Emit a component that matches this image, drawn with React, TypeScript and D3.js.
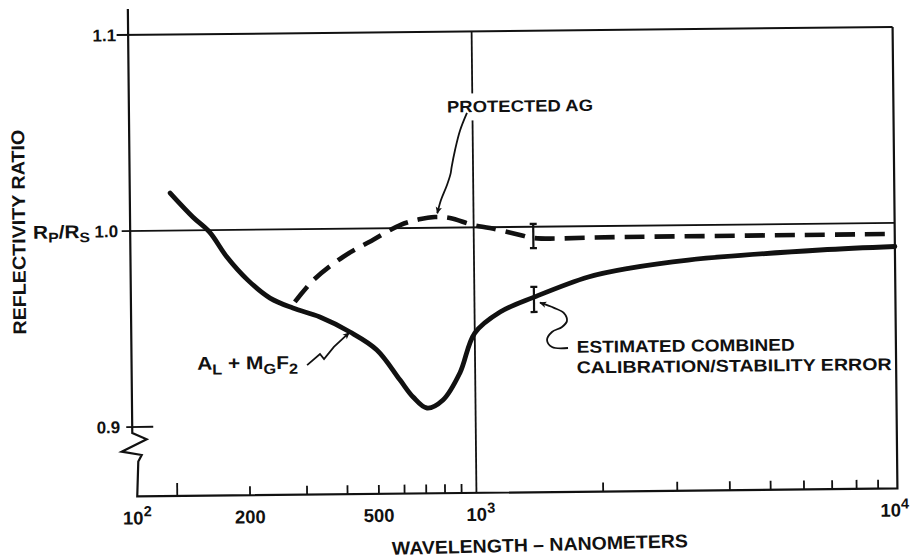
import React from 'react';
import * as d3 from 'd3';

const W = 915;
const H = 558;

// Al + MgF2 (solid) — wavelength (nm) and Rp/Rs
const solidNm = [127, 145, 160, 177, 200, 234, 275, 333, 412, 498, 586, 642, 708, 794, 897, 1000, 1150, 1386, 1867, 2346, 3224, 6640, 10000];
const solidR = [1.0191, 1.0068, 0.999, 0.9862, 0.9743, 0.965, 0.9598, 0.9551, 0.9473, 0.938, 0.9225, 0.9138, 0.9081, 0.9121, 0.9258, 0.9461, 0.9567, 0.9641, 0.9741, 0.9784, 0.9822, 0.9866, 0.988];

// Protected Ag (dashed)
const agNm = [279, 319, 394, 488, 593, 679, 760, 845, 997, 1093, 1288, 1382, 2220, 10000];
const agR = [0.9629, 0.974, 0.9856, 0.9941, 1.0016, 1.0044, 1.0055, 1.0049, 1.0012, 0.9996, 0.9959, 0.9943, 0.9943, 0.9944];

// Estimated combined calibration/stability error bars
const errNm = [1385, 1385];
const errCenter = [0.9953, 0.9629];
const errHalf = [0.0062, 0.0064];

// Axis ticks
const yTickValues = [0.9, 1.0, 1.1];
const yTickLabels = ['0.9', '1.0', '1.1'];
const xMinorTicks = [130, 200, 300, 400, 500, 600, 700, 800, 900, 2000, 3000, 4000, 5000, 6000, 7000, 8000, 9000];
const xLabelValues = [100, 200, 500, 1000, 10000];
const xLabelBase = ['10', '200', '500', '10', '10'];
const xLabelSup = ['2', '', '', '3', '4'];

const FONT = "'Liberation Sans', Arial, Helvetica, sans-serif";
const INK = '#111';

export default function App() {
  const x = d3.scaleLog().domain([100, 200, 1000, 10000]).range([130.5, 247.6, 474, 895]);
  const y = d3.scaleLinear().domain([0.9, 1.1]).range([423, 31]);

  const x0 = x(100);
  const xEnd = x(10000);
  const yTop = y(1.1);
  const yBottom = 492.5;
  const y09 = y(0.9);

  const line = d3
    .line<[number, number]>()
    .x((d) => x(d[0]))
    .y((d) => y(d[1]))
    .curve(d3.curveCatmullRom.alpha(0.5));

  const solidPath = line(solidNm.map((n, i) => [n, solidR[i]]) as [number, number][]) || '';
  const agPath = line(agNm.map((n, i) => [n, agR[i]]) as [number, number][]) || '';

  const leaderSmooth = d3.line<[number, number]>().curve(d3.curveCatmullRom.alpha(0.5));
  const leaderStraight = d3.line<[number, number]>();

  const leftAxis = d3.path();
  leftAxis.moveTo(x0, 5);
  leftAxis.lineTo(x0, y09 + 6);
  leftAxis.lineTo(x0 + 14.3, y09 + 12.5);
  leftAxis.lineTo(x0 - 10.8, y09 + 24.6);
  leftAxis.lineTo(x0 + 9.2, y09 + 28.1);
  leftAxis.lineTo(x0 + 5.7, y09 + 34.7);
  leftAxis.lineTo(x0 + 4.3, yBottom);
  leftAxis.lineTo(xEnd, yBottom);
  leftAxis.lineTo(xEnd, yTop);

  const protectedLeader = leaderSmooth([
    [468.5, 112.5],
    [461.4, 130],
    [456.2, 149.4],
    [452.6, 166.5],
    [451.5, 173],
    [447.8, 184.3],
    [441.6, 199.3],
    [437.8, 212.5],
  ]) || '';

  const alLeader = leaderStraight([
    [306, 363],
    [319, 352],
    [323, 357],
    [333, 345],
    [348.5, 331],
  ]) || '';

  const errLeader = leaderSmooth([
    [567.1, 348.6],
    [551.1, 347.4],
    [546.2, 340.4],
    [551.2, 332.4],
    [561.3, 327.5],
    [566.3, 321.6],
    [563.4, 313.6],
    [553.5, 308.3],
    [539.5, 303],
  ]) || '';

  const textStyle = { fontFamily: FONT, fontWeight: 700, fill: INK } as const;

  return (
    <svg
      width={W}
      height={H}
      viewBox={`0 0 ${W} ${H}`}
      style={{ position: 'absolute', left: 0, top: 0, display: 'block' }}
    >
      <defs>
        <marker
          id="arrow"
          viewBox="0 0 10 10"
          refX={9}
          refY={5}
          markerWidth={10}
          markerHeight={7}
          markerUnits="userSpaceOnUse"
          orient="auto"
        >
          <path d="M0,0.5 L10,5 L0,9.5 L2.5,5 z" fill={INK} />
        </marker>
      </defs>
      <rect x={0} y={0} width={W} height={H} fill="#fff" />
      <g transform="rotate(-0.6, 510, 260)">
        {/* grid / frame */}
        <path d={leftAxis.toString()} fill="none" stroke={INK} strokeWidth={2.2} strokeLinejoin="miter" />
        <line x1={x0 - 11.5} x2={xEnd} y1={yTop} y2={yTop} stroke={INK} strokeWidth={2} />
        <line x1={x0 - 8.5} x2={xEnd} y1={y(1.0)} y2={y(1.0)} stroke={INK} strokeWidth={1.8} />
        <line x1={x0 - 6} x2={x0 + 21} y1={y09} y2={y09} stroke={INK} strokeWidth={1.8} />
        <line x1={x(1000)} x2={x(1000)} y1={yTop} y2={yBottom} stroke={INK} strokeWidth={1.8} />

        {/* x ticks */}
        {xMinorTicks.map((v, i) => (
          <line
            key={`xt${v}`}
            x1={x(v)}
            x2={x(v)}
            y1={yBottom}
            y2={yBottom - (i === 0 ? 13 : 9)}
            stroke={INK}
            strokeWidth={1.8}
          />
        ))}

        {/* y tick labels */}
        {yTickValues.map((v, i) => (
          <text key={`yl${v}`} x={x0 - 12} y={y(v)} dy="0.36em" textAnchor="end" fontSize={17} {...textStyle}>
            {yTickLabels[i]}
          </text>
        ))}
        <text x={33.3} y={y(1.0)} dy="0.36em" fontSize={18.5} textLength={57} lengthAdjust="spacingAndGlyphs" {...textStyle}>
          R
          <tspan fontSize={14} dy={4}>P</tspan>
          <tspan fontSize={18.5} dy={-4}>/R</tspan>
          <tspan fontSize={14} dy={4}>S</tspan>
        </text>

        {/* x tick labels */}
        {xLabelValues.map((v, i) => {
          const shift = i === xLabelValues.length - 1 ? -7 : 0;
          const cx = x(v) + shift;
          return (
            <g key={`xl${v}`}>
              <text x={cx} y={520.5} textAnchor="middle" fontSize={18.5} {...textStyle}>
                {xLabelBase[i]}
              </text>
              {xLabelSup[i] && (
                <text x={cx + 10.5} y={512.5} textAnchor="start" fontSize={14.5} {...textStyle}>
                  {xLabelSup[i]}
                </text>
              )}
            </g>
          );
        })}

        {/* axis titles */}
        <text
          transform="translate(18.8,227) rotate(-90)"
          textAnchor="middle"
          dy="0.36em"
          fontSize={18.5}
          textLength={205}
          lengthAdjust="spacingAndGlyphs"
          {...textStyle}
        >
          REFLECTIVITY RATIO
        </text>
        <g transform="rotate(-0.9, 537, 551)">
          <text x={537} y={551.3} textAnchor="middle" fontSize={18.5} textLength={296} lengthAdjust="spacingAndGlyphs" {...textStyle}>
            WAVELENGTH – NANOMETERS
          </text>
        </g>

        {/* data curves */}
        <path d={solidPath} fill="none" stroke={INK} strokeWidth={4.8} strokeLinecap="round" strokeLinejoin="round" />
        <path d={agPath} fill="none" stroke={INK} strokeWidth={4.6} strokeDasharray="20 10" strokeLinecap="butt" />

        {/* error bars */}
        {errNm.map((n, i) => {
          const ex = x(n);
          const y1 = y(errCenter[i] + errHalf[i]);
          const y2 = y(errCenter[i] - errHalf[i]);
          return (
            <g key={`eb${i}`} stroke={INK} strokeWidth={2.2}>
              <line x1={ex} x2={ex} y1={y1} y2={y2} />
              <line x1={ex - 3.5} x2={ex + 3.5} y1={y1} y2={y1} />
              <line x1={ex - 3.5} x2={ex + 3.5} y1={y2} y2={y2} />
            </g>
          );
        })}

        {/* annotations */}
        <rect x={445} y={93} width={152} height={27} fill="#fff" />
        <text x={448.6} y={111.8} fontSize={16.5} textLength={146} lengthAdjust="spacingAndGlyphs" {...textStyle}>
          PROTECTED AG
        </text>
        <path d={protectedLeader} fill="none" stroke={INK} strokeWidth={1.8} markerEnd="url(#arrow)" />

        <text x={196} y={366.5} fontSize={18.5} textLength={101} lengthAdjust="spacingAndGlyphs" {...textStyle}>
          A
          <tspan fontSize={14.5} dy={5}>L</tspan>
          <tspan fontSize={18.5} dy={-5}>{' + M'}</tspan>
          <tspan fontSize={14.5} dy={5}>G</tspan>
          <tspan fontSize={18.5} dy={-5}>F</tspan>
          <tspan fontSize={14.5} dy={5}>2</tspan>
        </text>
        <path d={alLeader} fill="none" stroke={INK} strokeWidth={1.8} markerEnd="url(#arrow)" />

        <text x={575.8} y={353.5} fontSize={17} textLength={218} lengthAdjust="spacingAndGlyphs" {...textStyle}>
          ESTIMATED COMBINED
        </text>
        <text x={575.5} y={374} fontSize={17} textLength={315} lengthAdjust="spacingAndGlyphs" {...textStyle}>
          CALIBRATION/STABILITY ERROR
        </text>
        <path d={errLeader} fill="none" stroke={INK} strokeWidth={1.8} markerEnd="url(#arrow)" />
      </g>
    </svg>
  );
}
